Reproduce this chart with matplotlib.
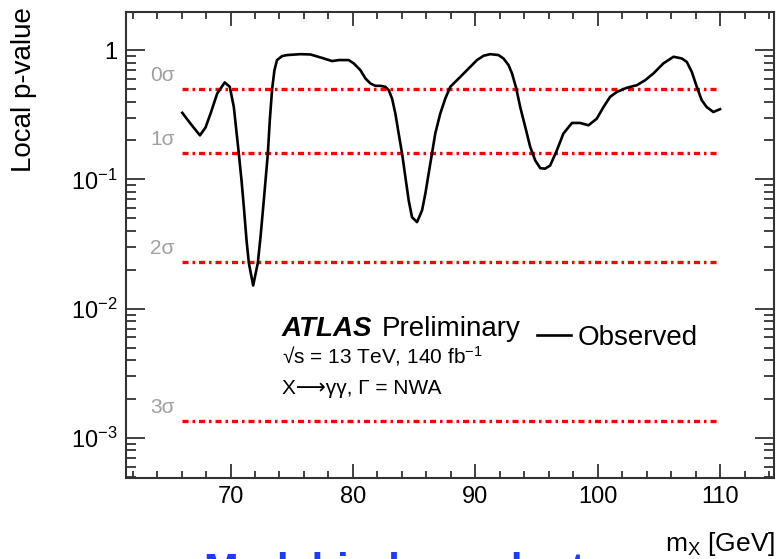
"""Local p-value scan for X -> gamma gamma (ATLAS-style panel)."""

import matplotlib
matplotlib.use("Agg")
import matplotlib.pyplot as plt
from matplotlib.ticker import FixedLocator, MultipleLocator, LogLocator, NullFormatter

plt.rcParams.update({
    "font.family": ["Liberation Sans", "DejaVu Sans"],
    "mathtext.fontset": "custom",
    "mathtext.rm": "Liberation Sans",
    "mathtext.it": "Liberation Sans:italic",
    "mathtext.bf": "Liberation Sans:bold",
    "mathtext.default": "regular",
})

# observed local p-value
MASS = [66.06, 66.73, 67.5, 67.96, 68.37, 68.91, 69.53, 69.94, 70.27, 70.68,
        70.9, 71.09, 71.31, 71.5, 71.85, 72.23, 72.45, 72.72, 73.05, 73.21,
        73.4, 73.59, 73.8, 74.22, 74.63, 75.71, 76.53, 77.62, 78.3, 78.84,
        79.66, 80.07, 80.61, 81.02, 81.43, 81.84, 82.24, 82.65, 82.93, 83.2,
        83.47, 83.74, 84.02, 84.29, 84.56, 84.83, 85.24, 85.65, 85.92, 86.19,
        86.46, 86.73, 87.14, 87.55, 87.96, 88.78, 89.46, 90.14, 90.68, 91.22,
        91.9, 92.31, 92.72, 93.0, 93.35, 93.67, 94.08, 94.49, 94.9, 95.31,
        95.71, 96.12, 96.67, 97.2, 97.9, 98.57, 99.25, 99.93, 100.48, 101.02,
        101.57, 102.38, 103.2, 103.88, 104.56, 105.37, 106.2, 106.87, 107.28,
        107.69, 108.1, 108.5, 108.9, 109.45, 110.0]
PVAL = [0.327, 0.270, 0.219, 0.252, 0.323, 0.461, 0.562, 0.52, 0.363, 0.158,
        0.098, 0.061, 0.0337, 0.0225, 0.0151, 0.0225, 0.0357, 0.0687, 0.158, 0.287,
        0.5, 0.70, 0.837, 0.90, 0.915, 0.93, 0.925, 0.862, 0.822, 0.837,
        0.837, 0.789, 0.70, 0.604, 0.552, 0.529, 0.529, 0.52, 0.49, 0.422,
        0.323, 0.226, 0.158, 0.104, 0.0687, 0.051, 0.0467, 0.0575, 0.0775, 0.111,
        0.158, 0.226, 0.323, 0.422, 0.52, 0.621, 0.721, 0.837, 0.904, 0.93,
        0.915, 0.86, 0.765, 0.66, 0.505, 0.363, 0.255, 0.178, 0.140, 0.122,
        0.121, 0.128, 0.168, 0.226, 0.273, 0.273, 0.262, 0.295, 0.363, 0.435,
        0.475, 0.511, 0.535, 0.585, 0.66, 0.789, 0.888, 0.862, 0.81,
        0.679, 0.52, 0.41, 0.363, 0.332, 0.349]

SIGMA_LABELS = ["0σ", "1σ", "2σ", "3σ"]
SIGMA_PVAL = [0.5, 0.1587, 0.02275, 0.00135]
SIGMA_RANGE = (66.0, 110.0)

YTICKS = [1e-3, 1e-2, 1e-1, 1.0]
YTICKLABELS = ["$10^{-3}$", "$10^{-2}$", "$10^{-1}$", "1"]
XTICKS = [70, 80, 90, 100, 110]

fig = plt.figure(figsize=(7.77, 5.59), dpi=100)
ax = fig.add_axes([0.162, 0.145, 0.834, 0.8335])

# significance reference lines
for lab, p in zip(SIGMA_LABELS, SIGMA_PVAL):
    ax.plot(SIGMA_RANGE, [p, p], color="#ff0000", linewidth=2.4,
            linestyle=(0, (1.8, 1.2, 0.75, 1.2)))
    ax.annotate(lab, xy=(63.45, p), xytext=(0, 3), textcoords="offset points",
                ha="left", va="bottom", fontsize=15, color="#a0a0a0")

ax.plot(MASS, PVAL, color="black", linewidth=1.9, label="Observed")

ax.set_yscale("log")
ax.set_xlim(61.45, 114.4)
ax.set_ylim(4.9e-4, 1.97)

ax.yaxis.set_major_locator(FixedLocator(YTICKS))
ax.set_yticklabels(YTICKLABELS)
ax.yaxis.set_minor_locator(LogLocator(base=10, subs=range(2, 10)))
ax.yaxis.set_minor_formatter(NullFormatter())
ax.set_xticks(XTICKS)
ax.xaxis.set_minor_locator(MultipleLocator(2))

ax.tick_params(which="both", direction="in", top=True, right=True,
               labelsize=17, pad=6, color="#333333", width=1.3)
ax.tick_params(axis="x", which="major", length=10)
ax.tick_params(axis="x", which="minor", length=5)
ax.tick_params(axis="y", which="major", length=14)
ax.tick_params(axis="y", which="minor", length=7)
for sp in ax.spines.values():
    sp.set_linewidth(1.5)
    sp.set_color("#333333")

# labels
fig.text(24 / 777, 1 - 7 / 559, "Local p-value", rotation=90, ha="center",
         va="top", fontsize=20)
fig.text(0.998, 1 - 551 / 559, "m$_{X}$ [GeV]", ha="right", va="baseline",
         fontsize=19)

ax.text(0.241, 0.305, "ATLAS", transform=ax.transAxes, fontsize=20,
        fontweight="bold", fontstyle="italic", va="baseline")
ax.text(0.395, 0.305, "Preliminary", transform=ax.transAxes, fontsize=20,
        va="baseline")
ax.text(0.241, 0.245, "√s = 13 TeV, 140 fb$^{-1}$", transform=ax.transAxes,
        fontsize=15, va="baseline")
ax.text(0.241, 0.180, "X⟶γγ, Γ = NWA", transform=ax.transAxes,
        fontsize=15, va="baseline")

ax.legend(loc="center left", bbox_to_anchor=(0.634, 0.30), frameon=False,
          fontsize=20, handlelength=1.22, handletextpad=0.25,
          borderpad=0, borderaxespad=0)

# slide title below the plot, mostly cut off
fig.text(203 / 777, -0.043, "Model-independent", ha="left", va="baseline",
         fontsize=30, fontweight="bold", color="#1a3cff")

fig.savefig("out.png", dpi=100)
